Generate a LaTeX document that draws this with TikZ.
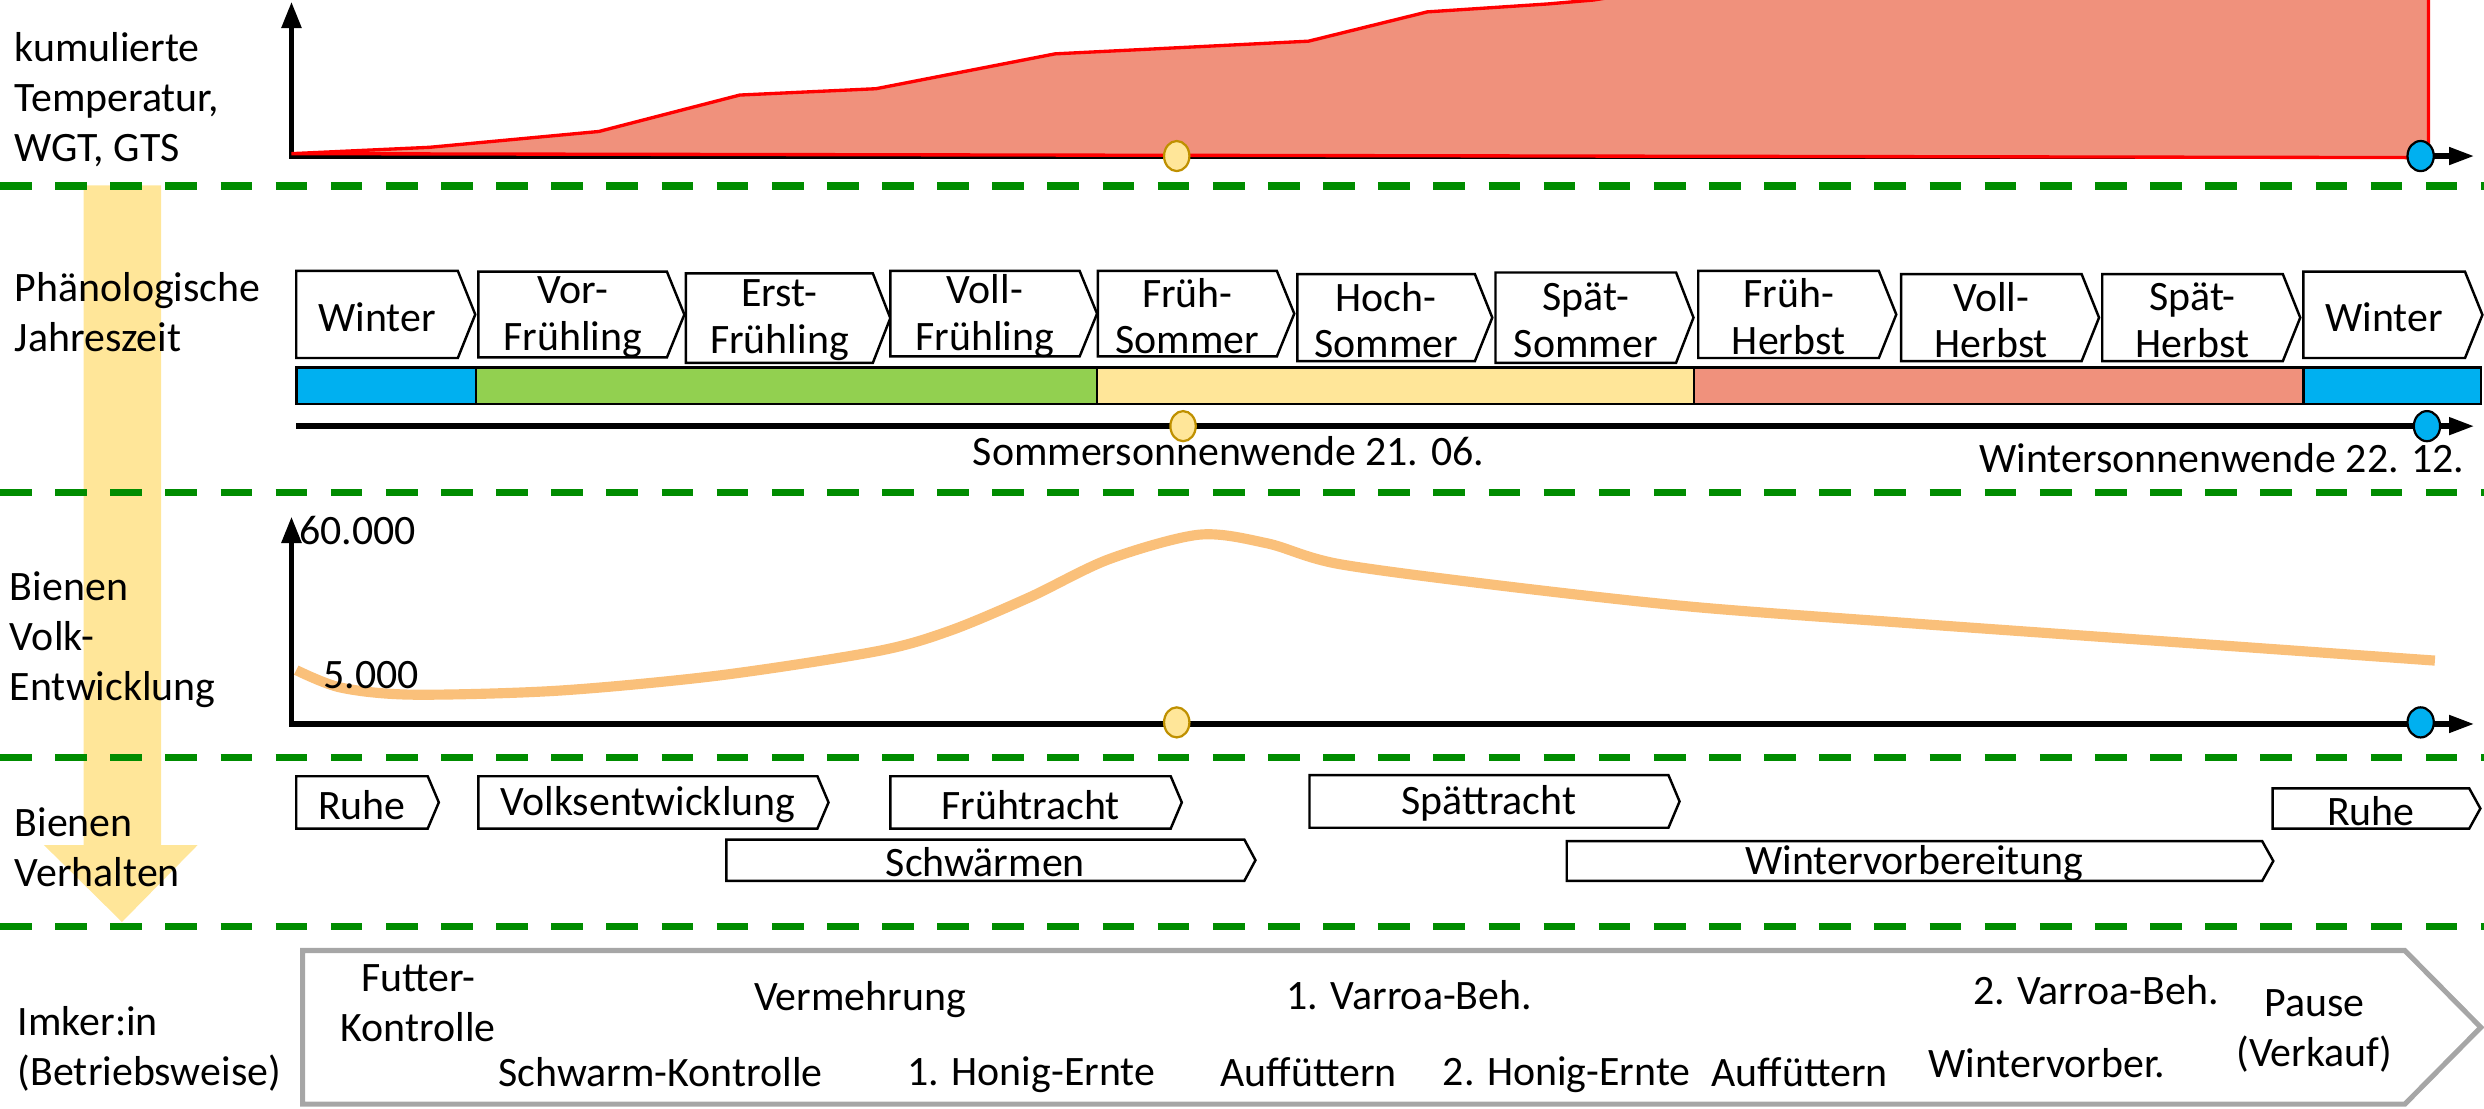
\documentclass[tikz,border=0pt]{standalone}
\usepackage{fontspec}
\setmainfont{Carlito}
\usetikzlibrary{arrows.meta}

\definecolor{dashgreen}{RGB}{0,140,0}
\definecolor{winterblue}{RGB}{0,176,240}
\definecolor{springgreen}{RGB}{146,208,80}
\definecolor{summeryellow}{RGB}{255,230,153}
\definecolor{autumnred}{RGB}{240,145,124}
\definecolor{beeorange}{RGB}{250,192,122}
\definecolor{sungold}{RGB}{191,144,0}
\definecolor{imkergray}{RGB}{166,166,166}

\tikzset{
  txt/.style={inner sep=0pt, font=\fontsize{18.8}{22.4}\selectfont},
  rowlabel/.style={txt, anchor=west, align=left},
  sepline/.style={dashgreen, line width=1.15mm, dash pattern=on 5mm off 3.7mm},
  axes/.style={line width=.9mm, line join=miter, {Triangle[length=4.2mm,width=3mm]}-{Triangle[length=4mm,width=2.6mm]}},
  timeaxis/.style={line width=.9mm, -{Triangle[length=4mm,width=2.6mm]}},
  chevline/.style={draw, line width=1.1pt, fill=white},
  summerdot/.style={fill=summeryellow, draw=sungold, line width=1pt},
  winterdot/.style={fill=winterblue, draw=black, line width=1pt},
}

% name, left, right, top, bottom, tip, text
\newcommand{\chevbox}[7]{%
  \draw[chevline] (#2,#4) -- ({#3-#6},#4) -- (#3,{(#4+#5)/2}) -- ({#3-#6},#5) -- (#2,#5) -- cycle;
  \node[txt, align=center, font=\fontsize{18.8}{21}\selectfont] (#1) at ({(#2+#3-#6)/2},{(#4+#5)/2+1.5}) {#7};
}

\begin{document}
\begin{tikzpicture}[x=.25mm, y=-.25mm]
\useasboundingbox (0,0) rectangle (1568,700);
\def\ax{184}
\def\xend{1562}
\def\sun{742.8}
\def\win{1528}

% yellow arrow behind everything
\fill[summeryellow] (52.8,117) -- (101.7,117) -- (101.7,533.4) -- (124.8,533.4) -- (77,582) -- (27.7,533.4) -- (52.8,533.4) -- cycle;

% kumulierte Temperatur
\draw[axes] (\ax,1) -- (\ax,98.5) -- (\xend,98.5);
\begin{scope}
\clip (0,0) rectangle (1568,700);
\draw[red, line width=1.5pt, fill=autumnred] (\ax,97) -- (271,93) -- (378,83) -- (467,60) -- (553,56) -- (666,34) -- (826,26) -- (901,7.5) -- (977,2.5) -- (1006,0) -- (1100,-15) -- (1533,-30) -- (1533,99.5) -- cycle;
\end{scope}
\draw[summerdot] (\sun,98.5) ellipse (8 and 9.5);
\draw[winterdot] (\win,98.5) ellipse (8.3 and 9.5);

% Jahreszeiten
\chevbox{winter1}{187}{300}{171}{226}{11}{Winter}
\chevbox{vorfr}{302}{432}{171.5}{225.6}{11}{Vor-\\Frühling}
\chevbox{erstfr}{433}{562}{172.6}{229}{11}{Erst-\\Frühling}
\chevbox{vollfr}{562}{692.5}{171}{225}{11}{Voll-\\Frühling}
\chevbox{fruehso}{693}{817}{171}{225}{11}{Früh-\\Sommer}
\chevbox{hochso}{819}{942}{173}{228}{11}{Hoch-\\Sommer}
\chevbox{spaetso}{944}{1069}{172}{229}{11}{Spät-\\Sommer}
\chevbox{fruehhe}{1072}{1197}{171}{226}{11}{Früh-\\Herbst}
\chevbox{vollhe}{1200}{1325}{173}{228}{11}{Voll-\\Herbst}
\chevbox{spaethe}{1327}{1452}{173}{228}{11}{Spät-\\Herbst}
\chevbox{winter2}{1454}{1567}{171.5}{226}{11}{Winter}

\draw[line width=1.2pt, fill=winterblue] (187,232) rectangle (300.5,255);
\draw[line width=1.2pt, fill=springgreen] (300.5,232) rectangle (692.5,255);
\draw[line width=1.2pt, fill=summeryellow] (692.5,232) rectangle (1069.3,255);
\draw[line width=1.2pt, fill=autumnred] (1069.3,232) rectangle (1453.9,255);
\draw[line width=1.2pt, fill=winterblue] (1453.9,232) rectangle (1566,255);

\draw[timeaxis] (187,269) -- (\xend,269);
\draw[summerdot] (746.8,269) ellipse (8 and 9.5);
\draw[winterdot] (1532,269) ellipse (8.3 and 9.5);
\node[txt, anchor=base] (sommerwende) at (775.5,294) {Sommersonnenwende 21. 06.};
\node[txt, anchor=base east] (winterwende) at (1556,298) {Wintersonnenwende 22. 12.};

% Volksentwicklung
\draw[axes] (\ax,326) -- (\ax,457) -- (\xend,457);
\draw[beeorange, line width=1.6mm] plot[smooth, tension=.5] coordinates {(187,423) (215,434) (260,438.5) (352,436) (453,426.5) (554,411) (600,398) (650,377) (700,353) (757,337.5) (800,343) (845,356) (950,370) (1068,383) (1200,393) (1326,402) (1537,417)};
\node[txt, anchor=base west] (maxvolk) at (188.7,344) {60.000};
\node[txt, anchor=base west] (minvolk) at (203.8,434.5) {5.000};
\draw[summerdot] (\sun,456) ellipse (8 and 9.5);
\draw[winterdot] (\win,456) ellipse (8.3 and 9.5);

% Bienen Verhalten
\chevbox{ruhe1}{187}{277}{490}{523}{7}{Ruhe}
\chevbox{volksentw}{302}{523}{490}{523}{7}{Volksentwicklung}
\chevbox{fruehtracht}{562}{746}{490}{523}{7}{Frühtracht}
\chevbox{schwaermen}{458.5}{792.5}{530}{556}{7}{Schwärmen}
\chevbox{spaettracht}{826.6}{1060.2}{489.3}{522.5}{7}{Spättracht}
\chevbox{wintervorb}{989}{1435}{531}{556}{7}{Wintervorbereitung}
\chevbox{ruhe2}{1434.6}{1565.7}{497.7}{523}{7}{Ruhe}

% Imker:in
\draw[imkergray, line width=.8mm] (191,600) -- (1518,600) -- (1566,648.5) -- (1518,697) -- (191,697) -- cycle;
\node[txt, align=center] (futterkontr) at (264,633) {Futter-\\Kontrolle};
\node[txt, anchor=base] (vermehrung) at (542.8,638) {Vermehrung};
\node[txt, anchor=base] (varroa1) at (889.6,637) {1. Varroa-Beh.};
\node[txt, anchor=base] (varroa2) at (1323,634) {2. Varroa-Beh.};
\node[txt, anchor=base] (schwarmkontr) at (417,686) {Schwarm-Kontrolle};
\node[txt, anchor=base] (honig1) at (651,685) {1. Honig-Ernte};
\node[txt, anchor=base] (auffuett1) at (826,686) {Auffüttern};
\node[txt, anchor=base] (honig2) at (989,685) {2. Honig-Ernte};
\node[txt, anchor=base] (auffuett2) at (1136,686) {Auffüttern};
\node[txt, anchor=base] (wintervorber) at (1292,680) {Wintervorber.};
\node[txt, align=center] (pause) at (1461,651) {Pause\\(Verkauf)};

% separators
\foreach \y in {117.5,311,478,585}
  \draw[sepline] (0,\y) -- (1568,\y);

% row labels
\node[rowlabel] (lbltemp) at (9,63) {kumulierte\\Temperatur,\\WGT, GTS};
\node[rowlabel] (lblphaeno) at (9,197) {Phänologische\\Jahreszeit};
\node[rowlabel] (lblvolk) at (6,404) {Bienen\\Volk-\\Entwicklung};
\node[rowlabel] (lblverhalten) at (9,535) {Bienen\\Verhalten};
\node[rowlabel] (lblimker) at (11,662) {Imker:in\\(Betriebsweise)};
\end{tikzpicture}
\end{document}
